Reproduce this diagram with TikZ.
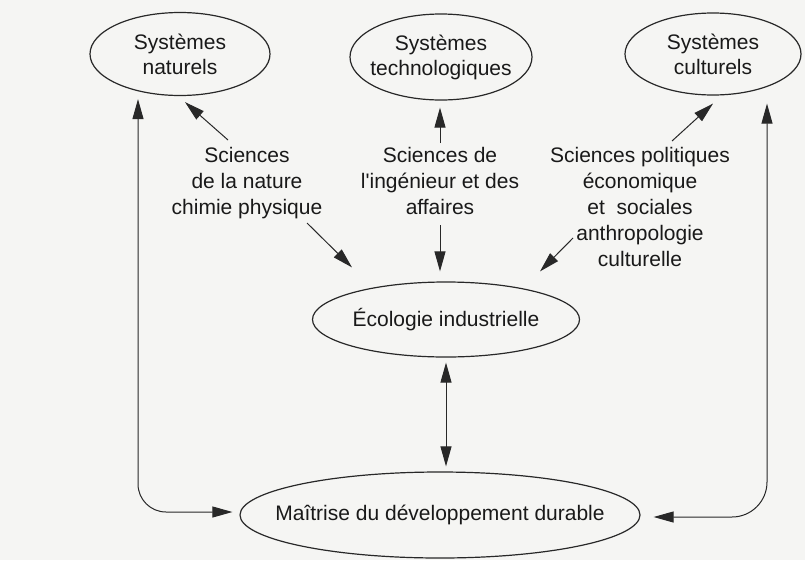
\documentclass[tikz,border=0pt]{standalone}
\usepackage{fontspec}
\setmainfont{Liberation Sans}
\usetikzlibrary{arrows.meta,shapes.geometric,calc}

\definecolor{paper}{RGB}{245,245,243}
\definecolor{ink}{RGB}{40,40,40}
\definecolor{type}{RGB}{25,25,25}

\tikzset{
  sysbox/.style={ellipse, draw=ink, line width=1.2pt, inner sep=0pt},
  sylabel/.style={align=center, font=\fontsize{21}{25}\selectfont, text=type},
  science/.style={align=center, anchor=north, inner sep=0pt,
                  font=\fontsize{21}{26}\selectfont, text=type},
  arr/.style={draw=ink, line width=1pt, -{Triangle[length=20pt,width=11pt]}},
  dblarr/.style={draw=ink, line width=1pt,
              {Triangle[length=20pt,width=11pt]}-{Triangle[length=20pt,width=11pt]}}
}

\begin{document}
\begin{tikzpicture}[x=1pt,y=-1pt]
  % page
  \fill[paper] (0,0) rectangle (805,560);
  \useasboundingbox (0,0) rectangle (805,560);

  % systems
  \node[sysbox, minimum width=180pt, minimum height=83pt,
        label={[sylabel]center:Systèmes\\naturels}] (natu) at (180,54) {};
  \node[sysbox, minimum width=182pt, minimum height=86pt,
        label={[sylabel]center:Systèmes\\technologiques}] (tech) at (441,57) {};
  \node[sysbox, minimum width=176pt, minimum height=82pt,
        label={[sylabel]center:Systèmes\\culturels}] (cult) at (713,54) {};
  \node[sysbox, minimum width=267pt, minimum height=75pt,
        label={[sylabel]center:Écologie industrielle}] (eco) at (446,319.5) {};
  \node[sysbox, minimum width=400pt, minimum height=86pt,
        label={[sylabel]center:Maîtrise du développement durable}] (mdd) at (440,515) {};

  % sciences
  \node[science] (snat) at (247,147) {Sciences\\de la nature\\chimie physique};
  \node[science] (sing) at (440,147) {Sciences de\\l\textquotesingle ingénieur et des\\affaires};
  \node[science] (spol) at (640,147) {Sciences politiques\\économique\\et\ \ sociales\\anthropologie\\culturelle};

  % links between sciences and systems
  \draw[arr] ($(snat.north)+(-19,-7)$) -- ($(natu.south)+(5,6)$);
  \draw[arr] ($(snat.north)+(60,76)$) -- ($(eco.north)+(-94,-14)$);
  \draw[arr] ($(sing.north)+(0,-4)$) -- ($(tech.south)+(-1,7)$);
  \draw[arr] ($(sing.north)+(0,78)$) -- ($(eco.north)+(-6,-10)$);
  \draw[arr] ($(spol.north)+(32,-6)$) -- ($(cult.south)+(0,8)$);
  \draw[arr] ($(spol.north)+(-67,91)$) -- ($(eco.north)+(94,-10)$);

  % industrial ecology and sustainable development
  \draw[dblarr] ($(eco.south)+(0,5)$) -- ($(mdd.north)+(6,-5)$);

  % side loops
  \draw[dblarr, rounded corners=28pt]
    ($(natu.south)+(-42,3)$) |- ($(mdd.west)+(-7,-3)$);
  \draw[dblarr, rounded corners=35pt]
    ($(cult.south)+(54,8)$) |- ($(mdd.east)+(13,2)$);
\end{tikzpicture}
\end{document}
